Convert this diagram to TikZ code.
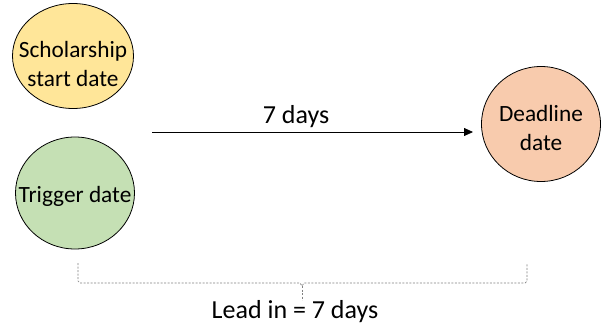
\documentclass[tikz,border=0pt]{standalone}
\usepackage{fontspec}
\setmainfont{Carlito}
\usetikzlibrary{shapes.geometric,arrows.meta}
\definecolor{cyellow}{HTML}{FFE699}
\definecolor{cgreen}{HTML}{C5E0B4}
\definecolor{corange}{HTML}{F8CBAD}
\tikzset{
  dateell/.style={ellipse, draw=black, line width=0.8pt, inner sep=0pt},
  datetxt/.style={align=center, inner sep=0pt, font=\fontsize{23.3}{29.5}\selectfont},
  lbl/.style={font=\fontsize{26}{30}\selectfont, inner sep=0pt},
  brace/.style={draw=gray, dash pattern=on 2pt off 1.5pt, line width=0.7pt}
}
\begin{document}
\begin{tikzpicture}[x=1pt,y=-1pt]
\useasboundingbox (0,0) rectangle (603,327);
\node[dateell, fill=cyellow, minimum width=121pt, minimum height=105pt] (sch) at (73,56) {};
\node[datetxt] (scht) at ([yshift=-8pt]sch.center) {Scholarship\\start date};
\node[dateell, fill=cgreen, minimum width=119pt, minimum height=112pt] (trg) at (75,193) {};
\node[datetxt] (trgt) at ([yshift=-3pt]trg.center) {Trigger date};
\node[dateell, fill=corange, minimum width=119pt, minimum height=115pt] (dl) at (541,124) {};
\node[datetxt] (dlt) at ([yshift=-4pt]dl.center) {Deadline\\date};
\coordinate (as) at (152,132);
\coordinate (ae) at (473,132);
\draw[-{Triangle[length=9pt,width=8pt]}, line width=0.8pt] (as) -- (ae);
\node[lbl] (days) at (296,117) {7 days};
\coordinate (bl) at (78,263);
\coordinate (br) at (527,263);
\coordinate (bm) at (302,300);
\draw[brace] (bl) -- (78,281) -- (80,283) -- (300,283) -- (302,286) -- (304,283) -- (525,283) -- (527,281) -- (br);
\draw[brace] (302,286) -- (bm);
\node[lbl] (lead) at (295,312) {Lead in = 7 days};
\end{tikzpicture}
\end{document}
